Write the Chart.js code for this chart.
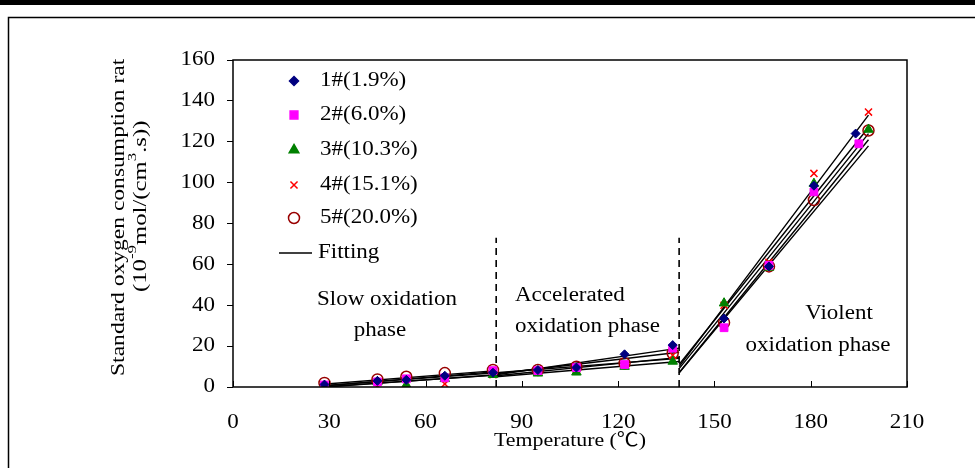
<!DOCTYPE html>
<html>
<head>
<meta charset="utf-8">
<script src="https://cdn.jsdelivr.net/npm/chart.js@4.4.1/dist/chart.umd.min.js"></script>
<style>
  html, body { margin: 0; padding: 0; background: #fff; }
  #wrap { width: 975px; height: 468px; }
</style>
</head>
<body>
<div id="wrap"><canvas id="chart" width="975" height="468"></canvas></div>
<script>
// measured temperatures (°C); last point differs a little per sample
const temps = [28.5, 45, 54, 66, 81, 95, 107, 122, 137, 153, 167, 181];
const lastTemp = [194, 195, 198, 198, 198];

const seriesNames = ['1#(1.9%)', '2#(6.0%)', '3#(10.3%)', '4#(15.1%)', '5#(20.0%)'];
const s1 = [1.2, 3.0, 3.5, 5.5, 7.0, 8.3, 9.5, 16.0, 20.5, 33.5, 59.0, 98.5, 124.0];
const s2 = [1.0, 2.5, 4.0, 4.5, 8.0, 8.0, 9.5, 11.0, 19.0, 29.0, 59.5, 95.5, 119.0];
const s3 = [0.5, 2.5, 1.0, 4.0, 6.0, 6.7, 7.2, 10.0, 12.5, 41.0, 58.5, 99.5, 126.0];
const s4 = [0.3, 0.5, 2.0, 1.5, 6.0, 7.5, 8.5, 11.0, 15.5, 40.0, 61.0, 104.5, 134.5];
const s5 = [2.0, 3.7, 5.0, 6.8, 8.3, 8.3, 9.9, 11.6, 16.5, 31.5, 59.0, 91.5, 125.5];

// fitted line end points for the three phases, per sample
const fitTemps = [29, 82, 82, 139, 139, 198];
const fitSlowStart = [0.8, 0.6, 0.2, 0.0, 1.5];
const fitSlowEnd = [7.0, 7.5, 5.8, 6.0, 8.0];
const fitMidStart = [6.0, 6.5, 5.0, 5.5, 7.0];
const fitMidEnd = [19.0, 17.0, 12.5, 14.5, 14.0];
const fitFastStart = [9, 7, 11, 10, 7];
const fitFastEnd = [124, 118, 127, 133, 121];

const phaseBounds = [82, 139];
const phaseTop = 73;

const xTicks = [0, 30, 60, 90, 120, 150, 180, 210];
const yTicks = [0, 20, 40, 60, 80, 100, 120, 140, 160];

const FONT = '"Liberation Serif", "Times New Roman", "Noto Sans CJK SC", serif';
const SX = 1.15; // the original text is a bit wider than Times at this height
const styles = [
  { pointStyle: 'rectRot', color: '#000080', fill: '#000080', radius: 4.5 },
  { pointStyle: 'rect', color: '#FF00FF', fill: '#FF00FF', radius: 5.5 },
  { pointStyle: 'triangle', color: '#008000', fill: '#008000', radius: 5.5 },
  { pointStyle: 'crossRot', color: '#FF0000', fill: '#FF0000', radius: 5 },
  { pointStyle: 'circle', color: '#990000', fill: 'rgba(0,0,0,0)', radius: 5.5 }
];

const allSeries = [s1, s2, s3, s4, s5];

const scatterSets = allSeries.map((vals, i) => ({
  type: 'scatter',
  label: seriesNames[i],
  data: vals.map((v, j) => ({ x: j < temps.length ? temps[j] : lastTemp[i], y: v })),
  pointStyle: styles[i].pointStyle,
  pointRadius: styles[i].radius,
  borderColor: styles[i].color,
  backgroundColor: styles[i].fill,
  pointBorderWidth: i === 4 || i === 3 ? 1.5 : 1,
  order: 1
}));

const fitSets = allSeries.map((vals, i) => {
  const ys = [fitSlowStart[i], fitSlowEnd[i], fitMidStart[i], fitMidEnd[i], fitFastStart[i], fitFastEnd[i]];
  const data = [];
  for (let k = 0; k < 6; k += 2) {
    data.push({ x: fitTemps[k], y: ys[k] }, { x: fitTemps[k + 1], y: ys[k + 1] });
    if (k < 4) data.push({ x: fitTemps[k + 1], y: null });
  }
  return {
    type: 'line',
    label: 'Fitting',
    data,
    borderColor: '#000',
    borderWidth: 1.4,
    pointRadius: 0,
    spanGaps: false,
    order: 2
  };
});

const boundSets = phaseBounds.map(t => ({
  type: 'line',
  label: 'bound',
  data: [{ x: t, y: 0 }, { x: t, y: phaseTop }],
  borderColor: '#000',
  borderWidth: 1.6,
  borderDash: [7, 5],
  pointRadius: 0,
  order: 3
}));

function sText(ctx, txt, x, y, align, sx) {
  ctx.save();
  ctx.translate(x, y);
  ctx.scale(sx || SX, 1);
  ctx.textAlign = align;
  ctx.fillText(txt, 0, 0);
  ctx.restore();
}

function drawMarker(ctx, style, r, x, y) {
  ctx.beginPath();
  if (style === 'rectRot') {
    ctx.moveTo(x, y - r); ctx.lineTo(x + r, y); ctx.lineTo(x, y + r); ctx.lineTo(x - r, y); ctx.closePath();
    ctx.fill(); ctx.stroke();
  } else if (style === 'rect') {
    const h = r * Math.SQRT1_2;
    ctx.rect(x - h, y - h, h * 2, h * 2); ctx.fill(); ctx.stroke();
  } else if (style === 'triangle') {
    ctx.moveTo(x, y - r); ctx.lineTo(x + r * 0.87, y + r * 0.5); ctx.lineTo(x - r * 0.87, y + r * 0.5); ctx.closePath();
    ctx.fill(); ctx.stroke();
  } else if (style === 'crossRot') {
    const d = r * Math.SQRT1_2;
    ctx.moveTo(x - d, y - d); ctx.lineTo(x + d, y + d);
    ctx.moveTo(x + d, y - d); ctx.lineTo(x - d, y + d);
    ctx.stroke();
  } else {
    ctx.arc(x, y, r, 0, Math.PI * 2); ctx.stroke();
  }
}

const decor = {
  id: 'decor',
  beforeDraw(chart) {
    const ctx = chart.ctx;
    ctx.save();
    ctx.fillStyle = '#fff';
    ctx.fillRect(0, 0, chart.width, chart.height);
    // top rule and outer frame
    ctx.fillStyle = '#000';
    ctx.fillRect(0, 0, chart.width, 5);
    ctx.strokeStyle = '#000';
    ctx.lineWidth = 1.5;
    ctx.beginPath();
    ctx.moveTo(8.5, chart.height + 2);
    ctx.lineTo(8.5, 17.5);
    ctx.lineTo(chart.width + 2, 17.5);
    ctx.stroke();
    ctx.restore();
  },
  afterDraw(chart) {
    const ctx = chart.ctx;
    const a = chart.chartArea;
    const xs = chart.scales.x;
    const ys = chart.scales.y;
    ctx.save();
    // plot box
    ctx.strokeStyle = '#000';
    ctx.lineWidth = 1.5;
    ctx.strokeRect(a.left, a.top, a.right - a.left, a.bottom - a.top);
    // inward x ticks
    ctx.lineWidth = 1;
    xTicks.forEach(t => {
      const px = Math.round(xs.getPixelForValue(t)) + 0.5;
      ctx.beginPath();
      ctx.moveTo(px, a.bottom);
      ctx.lineTo(px, a.bottom - 6);
      ctx.stroke();
    });

    ctx.fillStyle = '#000';
    ctx.textBaseline = 'middle';

    // tick labels
    ctx.font = '20px ' + FONT;
    xTicks.forEach(t => sText(ctx, String(t), xs.getPixelForValue(t), 423, 'center'));
    yTicks.forEach(t => sText(ctx, String(t), 215, ys.getPixelForValue(t), 'right'));

    // legend
    const rows = [81, 115, 150, 185, 218];
    seriesNames.forEach((name, i) => {
      ctx.fillStyle = styles[i].fill;
      ctx.strokeStyle = styles[i].color;
      ctx.lineWidth = 1.5;
      drawMarker(ctx, styles[i].pointStyle, styles[i].radius, 294, rows[i]);
      ctx.fillStyle = '#000';
      sText(ctx, name, 320, rows[i], 'left');
    });
    ctx.strokeStyle = '#000';
    ctx.lineWidth = 1.4;
    ctx.beginPath();
    ctx.moveTo(279, 253);
    ctx.lineTo(312, 253);
    ctx.stroke();
    sText(ctx, 'Fitting', 318, 253, 'left');

    // phase labels
    sText(ctx, 'Slow oxidation', 387, 300, 'center');
    sText(ctx, 'phase', 380, 331, 'center');
    sText(ctx, 'Accelerated', 515, 296, 'left');
    sText(ctx, 'oxidation phase', 515, 327, 'left');
    sText(ctx, 'Violent', 839, 314, 'center');
    sText(ctx, 'oxidation phase', 818, 346, 'center');

    // x title
    ctx.font = '19px ' + FONT;
    sText(ctx, 'Temperature (\u2103)', 570, 441, 'center');

    // y title, first line clipped at top like the original
    ctx.save();
    ctx.beginPath();
    ctx.rect(0, 59, 233, 400);
    ctx.clip();
    ctx.translate(119, 376);
    ctx.rotate(-Math.PI / 2);
    ctx.font = '19px ' + FONT;
    sText(ctx, 'Standard oxygen consumption rate', 0, 0, 'left', 1.24);
    ctx.restore();

    ctx.save();
    ctx.translate(141, 292);
    ctx.rotate(-Math.PI / 2);
    ctx.scale(1.3, 1);
    ctx.textAlign = 'left';
    const parts = [['(10', 0], ['-9', 1], ['mol/(cm', 0], ['3', 1], ['.s))', 0]];
    let cx = 0;
    parts.forEach(([txt, sup]) => {
      ctx.font = (sup ? '13px ' : '19px ') + FONT;
      ctx.fillText(txt, cx, sup ? -8 : 0);
      cx += ctx.measureText(txt).width;
    });
    ctx.restore();

    ctx.restore();
  }
};

new Chart(document.getElementById('chart'), {
  data: { datasets: [...boundSets, ...fitSets, ...scatterSets] },
  options: {
    responsive: false,
    animation: false,
    layout: { padding: { left: 0, top: 60, right: 68, bottom: 0 } },
    plugins: { legend: { display: false }, tooltip: { enabled: false } },
    scales: {
      x: {
        type: 'linear',
        min: 0, max: 210,
        afterBuildTicks: s => { s.ticks = xTicks.map(v => ({ value: v })); },
        afterFit: s => { s.height = 81; },
        grid: { display: false, drawTicks: false },
        border: { display: false },
        ticks: { display: false }
      },
      y: {
        type: 'linear',
        min: 0, max: 160,
        afterBuildTicks: s => { s.ticks = yTicks.map(v => ({ value: v })); },
        afterFit: s => { s.width = 233; },
        grid: { drawOnChartArea: false, drawTicks: true, tickLength: 6, color: '#000', tickWidth: 1 },
        border: { display: false },
        ticks: { display: false }
      }
    }
  },
  plugins: [decor]
});
</script>
</body>
</html>
